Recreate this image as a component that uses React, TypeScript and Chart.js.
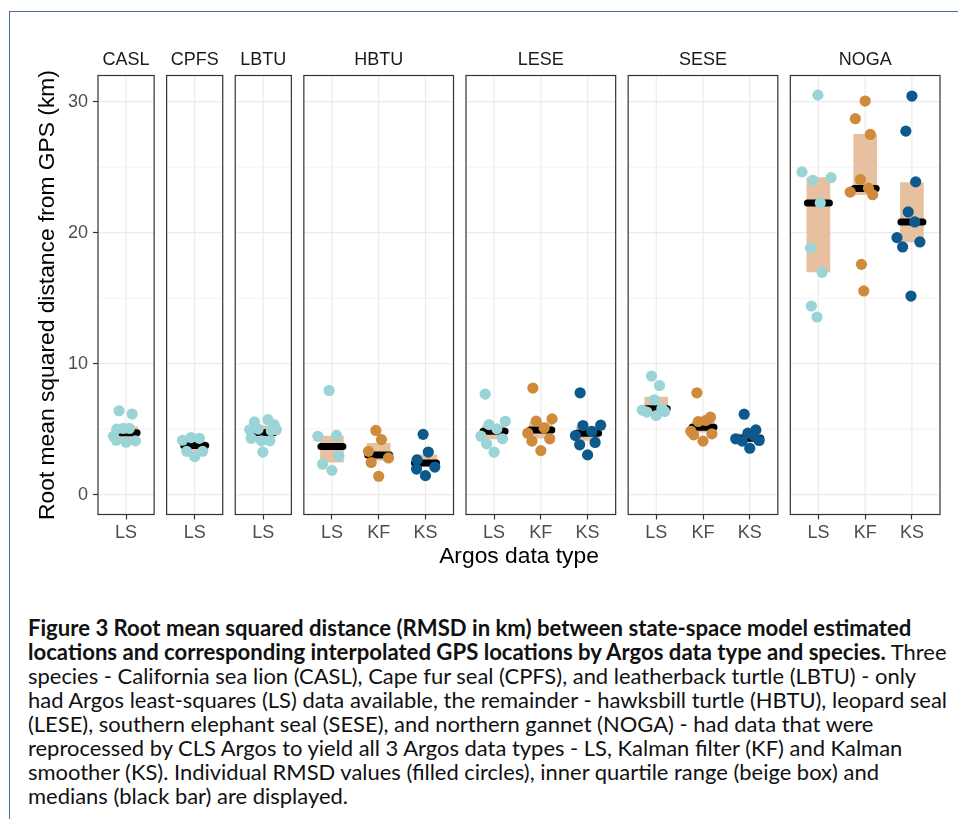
import React, { useEffect, useRef, useMemo } from "react";
import { Chart, registerables } from "chart.js";
Chart.register(...registerables);

// ---------- data ----------
const species = ["CASL", "CPFS", "LBTU", "HBTU", "LESE", "SESE", "NOGA"];
const dataTypes = ["LS", "KF", "KS"];
const speciesTypes = [["LS"], ["LS"], ["LS"], ["LS", "KF", "KS"], ["LS", "KF", "KS"], ["LS", "KF", "KS"], ["LS", "KF", "KS"]];

const yTicks = [0, 10, 20, 30];
const yMinorTicks = [5, 15, 25];

// individual RMSD values (km)
const rmsdLS = [
  [6.4, 6.15, 5.0, 5.05, 5.05, 4.45, 4.15, 4.0, 4.1],
  [4.15, 4.35, 4.3, 3.3, 2.9, 3.3],
  [5.55, 5.72, 5.35, 4.95, 5.0, 4.9, 4.95, 4.3, 4.1, 4.1, 3.25],
  [7.95, 4.45, 4.52, 2.95, 2.32, 1.85],
  [7.67, 5.35, 5.6, 5.02, 4.46, 4.26, 3.88, 3.24],
  [9.05, 8.33, 7.24, 6.45, 6.3, 6.35, 6.04, 6.55],
  [30.5, 24.64, 24.0, 24.2, 22.27, 18.83, 16.97, 14.4, 13.56],
];
const jitterLS = [
  [-0.15, 0.13, -0.2, -0.06, 0.07, -0.27, -0.21, 0.0, 0.2],
  [-0.26, -0.08, 0.1, -0.17, 0.0, 0.17],
  [-0.19, 0.1, 0.23, -0.29, -0.11, 0.17, 0.28, -0.26, -0.04, 0.14, -0.01],
  [-0.06, -0.3, 0.1, 0.15, -0.2, 0.0],
  [-0.19, -0.11, 0.24, 0.06, -0.28, 0.18, -0.16, 0.0],
  [-0.1, 0.07, -0.04, -0.3, -0.2, 0.18, 0.0, 0.12],
  [-0.01, -0.35, -0.12, 0.27, 0.04, -0.17, 0.08, -0.15, -0.03],
];
const rmsdKF = [
  null, null, null,
  [4.9, 4.2, 3.3, 2.8, 2.45, 1.4],
  [8.13, 5.78, 5.61, 5.1, 4.69, 4.26, 4.08, 3.36],
  [7.77, 5.91, 5.66, 5.58, 4.84, 4.56, 4.64, 4.08],
  [30.05, 28.7, 27.5, 24.06, 23.1, 23.4, 22.9, 17.58, 15.55],
];
const jitterKF = [
  null, null, null,
  [-0.06, 0.06, -0.22, 0.21, -0.16, 0.0],
  [-0.17, 0.24, -0.1, 0.07, -0.28, 0.19, -0.19, 0.0],
  [-0.13, 0.16, 0.06, -0.1, -0.26, -0.2, 0.19, 0.0],
  [0.0, -0.21, 0.11, -0.1, -0.32, 0.07, 0.16, -0.08, -0.03],
];
const rmsdKS = [
  null, null, null,
  [4.6, 3.25, 2.65, 1.95, 2.1, 1.45],
  [7.77, 5.27, 5.3, 4.82, 4.51, 3.98, 3.8, 3.03],
  [6.14, 4.94, 4.69, 4.26, 4.08, 4.13, 3.54, 4.51],
  [30.43, 27.75, 23.88, 21.58, 20.82, 19.62, 18.91, 19.29, 15.16],
];
const jitterKS = [
  null, null, null,
  [-0.05, 0.06, -0.18, -0.19, 0.2, 0.0],
  [-0.16, -0.1, 0.28, 0.09, -0.26, 0.16, -0.17, 0.0],
  [-0.12, 0.13, -0.04, -0.3, -0.16, 0.2, 0.0, 0.08],
  [0.0, -0.13, 0.08, -0.08, 0.06, -0.32, -0.2, 0.17, -0.02],
];

// inner quartile range and medians
const q1LS = [4.3, 3.35, 4.3, 2.47, 4.26, 6.17, 17.0];
const medianLS = [4.72, 3.75, 4.75, 3.67, 4.84, 6.55, 22.27];
const q3LS = [5.2, 4.05, 5.25, 4.46, 5.27, 7.44, 24.2];
const q1KF = [null, null, null, 2.6, 4.3, 4.76, 22.9];
const medianKF = [null, null, null, 3.03, 4.94, 5.15, 23.37];
const q3KF = [null, null, null, 3.92, 5.5, 5.53, 27.5];
const q1KS = [null, null, null, 2.14, 4.13, 4.0, 19.29];
const medianKS = [null, null, null, 2.42, 4.69, 4.31, 20.82];
const q3KS = [null, null, null, 3.03, 5.2, 4.65, 23.83];

const captionBold1 = "Figure 3 Root mean squared distance (RMSD in km) between state-space model estimated";
const captionBold2 = "locations and corresponding interpolated GPS locations by Argos data type and species.";
const captionRest2 = " Three";
const captionLines = [
  "species - California sea lion (CASL), Cape fur seal (CPFS), and leatherback turtle (LBTU) - only",
  "had Argos least-squares (LS) data available, the remainder - hawksbill turtle (HBTU), leopard seal",
  "(LESE), southern elephant seal (SESE), and northern gannet (NOGA) - had data that were",
  "reprocessed by CLS Argos to yield all 3 Argos data types - LS, Kalman filter (KF) and Kalman",
  "smoother (KS). Individual RMSD values (filled circles), inner quartile range (beige box) and",
  "medians (black bar) are displayed.",
];

// ---------- styling ----------
const typeColors: Record<string, string> = { LS: "#9ad4d7", KF: "#cf8b3b", KS: "#0c5a8d" };
const boxColor = "#e7c0a0";
const FONT = "'Liberation Sans', Arial, Helvetica, sans-serif";
const CAPTION_FONT = "Lato, 'Open Sans', sans-serif";

const panelExpand = 0.6;
const panelGap = 0.267;

const valuesByType: Record<string, any[]> = { LS: rmsdLS, KF: rmsdKF, KS: rmsdKS };
const jitterByType: Record<string, any[]> = { LS: jitterLS, KF: jitterKF, KS: jitterKS };
const q1ByType: Record<string, any[]> = { LS: q1LS, KF: q1KF, KS: q1KS };
const medByType: Record<string, any[]> = { LS: medianLS, KF: medianKF, KS: medianKS };
const q3ByType: Record<string, any[]> = { LS: q3LS, KF: q3KF, KS: q3KS };

// panel layout in x units (one unit per category)
const panelStarts: number[] = [];
const panelWidths: number[] = [];
let acc = 0;
speciesTypes.forEach((t) => {
  panelStarts.push(acc);
  const w = t.length - 1 + 2 * panelExpand;
  panelWidths.push(w);
  acc += w + panelGap;
});
const xTotal = acc - panelGap;
const centerOf = (s: number, k: number) => panelStarts[s] + panelExpand + k;

const tickValues: number[] = [];
const tickLabels: string[] = [];
speciesTypes.forEach((types, s) =>
  types.forEach((t, k) => {
    tickValues.push(centerOf(s, k));
    tickLabels.push(t);
  })
);

const panelsPlugin = {
  id: "facetPanels",
  beforeDatasetsDraw(chart: any) {
    const { ctx, chartArea, scales } = chart;
    const x = scales.x, y = scales.y;
    ctx.save();
    panelStarts.forEach((st, i) => {
      const l = x.getPixelForValue(st);
      const r = x.getPixelForValue(st + panelWidths[i]);
      ctx.fillStyle = "#ffffff";
      ctx.fillRect(l, chartArea.top, r - l, chartArea.bottom - chartArea.top);
      ctx.strokeStyle = "#ebebeb";
      ctx.lineWidth = 0.6;
      yMinorTicks.forEach((v) => {
        const py = y.getPixelForValue(v);
        ctx.beginPath(); ctx.moveTo(l, py); ctx.lineTo(r, py); ctx.stroke();
      });
      ctx.lineWidth = 1.2;
      yTicks.forEach((v) => {
        const py = y.getPixelForValue(v);
        ctx.beginPath(); ctx.moveTo(l, py); ctx.lineTo(r, py); ctx.stroke();
      });
      speciesTypes[i].forEach((_, k) => {
        const px = x.getPixelForValue(centerOf(i, k));
        ctx.beginPath(); ctx.moveTo(px, chartArea.top); ctx.lineTo(px, chartArea.bottom); ctx.stroke();
      });
    });
    ctx.restore();
  },
  afterDatasetsDraw(chart: any) {
    const { ctx, chartArea, scales } = chart;
    const x = scales.x;
    ctx.save();
    panelStarts.forEach((st, i) => {
      const l = x.getPixelForValue(st);
      const r = x.getPixelForValue(st + panelWidths[i]);
      ctx.strokeStyle = "#333333";
      ctx.lineWidth = 1.2;
      ctx.strokeRect(l, chartArea.top, r - l, chartArea.bottom - chartArea.top);
      ctx.fillStyle = "#1a1a1a";
      ctx.font = `18px ${FONT}`;
      ctx.textAlign = "center";
      ctx.textBaseline = "alphabetic";
      ctx.fillText(species[i], (l + r) / 2, chartArea.top - 10.5);
    });
    ctx.restore();
  },
  beforeDatasetDraw(chart: any, args: any) {
    if (chart.data.datasets[args.index].label === "median") chart.ctx.lineCap = "round";
  },
  afterDatasetDraw(chart: any, args: any) {
    if (chart.data.datasets[args.index].label === "median") chart.ctx.lineCap = "butt";
  },
};

function measure(text: string, weight: string) {
  const c = document.createElement("canvas").getContext("2d");
  if (!c) return 0;
  c.font = `${weight} 20px ${CAPTION_FONT}`;
  return c.measureText(text).width;
}

export default function App() {
  const canvasRef = useRef<HTMLCanvasElement | null>(null);

  const sizes = useMemo(() => {
    const target = 921;
    const wLine4 = measure(captionLines[1], "normal");
    const normal = wLine4 > 0 ? (20 * target) / wLine4 : 17;
    const wThree = (measure(captionRest2, "normal") * normal) / 20;
    const wB2 = measure(captionBold2, "bold");
    const bold = wB2 > 0 ? (20 * (target - wThree)) / wB2 : 17;
    return { bold, normal };
  }, []);

  useEffect(() => {
    if (!canvasRef.current) return;
    const boxes: any[] = [];
    const medians: any[] = [];
    const pointSets: any[] = dataTypes.map((t) => ({
      type: "scatter",
      label: t,
      data: [] as any[],
      backgroundColor: typeColors[t],
      borderWidth: 0,
      pointRadius: 5.6,
      order: 0,
    }));
    speciesTypes.forEach((types, s) => {
      types.forEach((t, k) => {
        const c = centerOf(s, k);
        boxes.push({ x: c, y: [q1ByType[t][s], q3ByType[t][s]] });
        medians.push({ x: c, y: medByType[t][s] });
        const vals = valuesByType[t][s];
        const jit = jitterByType[t][s];
        vals.forEach((v: number, j: number) => {
          pointSets[dataTypes.indexOf(t)].data.push({ x: c + jit[j], y: v });
        });
      });
    });

    const chart = new Chart(canvasRef.current, {
      type: "scatter",
      data: {
        datasets: [
          ...pointSets,
          {
            type: "scatter",
            label: "median",
            data: medians,
            pointStyle: "line",
            pointRadius: 11,
            borderWidth: 7,
            borderColor: "#000000",
            backgroundColor: "#000000",
            order: 1,
          },
          {
            type: "bar",
            label: "iqr",
            data: boxes,
            backgroundColor: boxColor,
            borderWidth: 0,
            barThickness: 23,
            order: 2,
          },
        ] as any,
      },
      options: {
        animation: false,
        responsive: false,
        devicePixelRatio: 1,
        events: [],
        layout: { padding: { top: 75.5, right: 18, bottom: 0, left: 0 } },
        plugins: { legend: { display: false }, tooltip: { enabled: false } },
        scales: {
          x: {
            type: "linear",
            min: 0,
            max: xTotal,
            offset: false,
            afterBuildTicks: (sc: any) => {
              sc.ticks = tickValues.map((v) => ({ value: v }));
            },
            afterFit: (sc: any) => {
              sc.height = 85.5;
            },
            ticks: {
              callback: (_v: any, i: number) => tickLabels[i],
              color: "#4d4d4d",
              font: { size: 18, family: FONT },
              padding: 3,
              autoSkip: false,
              maxRotation: 0,
            },
            grid: {
              offset: false,
              drawOnChartArea: false,
              drawTicks: true,
              tickLength: 5,
              tickColor: "#333333",
              tickWidth: 1.2,
            },
            border: { display: false },
            title: {
              display: true,
              text: "Argos data type",
              color: "#000000",
              font: { size: 22.8, family: FONT },
              padding: { top: 0, bottom: 29.3 },
            },
          },
          y: {
            type: "linear",
            min: -1.52,
            max: 32.0,
            afterBuildTicks: (sc: any) => {
              sc.ticks = yTicks.map((v) => ({ value: v }));
            },
            afterFit: (sc: any) => {
              sc.width = 98;
            },
            ticks: { color: "#4d4d4d", font: { size: 18, family: FONT }, padding: 5 },
            grid: { drawOnChartArea: false, drawTicks: true, tickLength: 5, tickColor: "#333333", tickWidth: 1.2 },
            border: { display: false },
            title: {
              display: true,
              text: "Root mean squared distance from GPS (km)",
              color: "#000000",
              font: { size: 22.8, family: FONT },
              padding: { top: 34, bottom: 0 },
            },
          },
        },
      } as any,
      plugins: [panelsPlugin as any],
    });
    return () => chart.destroy();
  }, []);

  const lineStyle: React.CSSProperties = { whiteSpace: "nowrap", height: 24, lineHeight: "24px" };

  return (
    <div style={{ position: "absolute", left: 0, top: 0, width: 958, height: 819, background: "#ffffff", overflow: "hidden" }}>
      <div
        style={{
          position: "absolute",
          left: 9,
          top: 11,
          width: 958,
          height: 819,
          borderLeft: "1.5px solid #4b6c9e",
          borderTop: "1.5px solid #4b6c9e",
        }}
      />
      <canvas
        ref={canvasRef}
        width={958}
        height={600}
        style={{ position: "absolute", left: 0, top: 0, width: 958, height: 600 }}
      />
      <div
        style={{
          position: "absolute",
          left: 28,
          top: 616,
          fontFamily: CAPTION_FONT,
          color: "#111111",
          fontSize: sizes.normal,
        }}
      >
        <div style={{ ...lineStyle, fontWeight: "bold", fontSize: sizes.bold }}>{captionBold1}</div>
        <div style={lineStyle}>
          <span style={{ fontWeight: "bold", fontSize: sizes.bold }}>{captionBold2}</span>
          {captionRest2}
        </div>
        {captionLines.map((l, i) => (
          <div key={i} style={lineStyle}>
            {l}
          </div>
        ))}
      </div>
    </div>
  );
}
